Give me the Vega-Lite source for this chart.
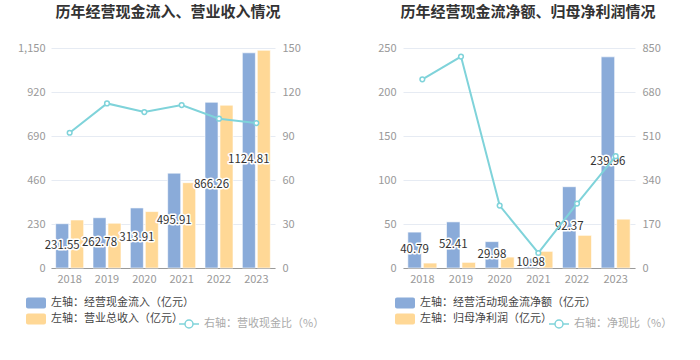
{
  "$schema": "https://vega.github.io/schema/vega-lite/v6.json",
  "background": "white",
  "padding": {"left": 17, "top": 5, "right": 5, "bottom": 5},
  "spacing": 52,
  "resolve": {"scale": {"color": "independent", "stroke": "independent", "xOffset": "independent", "x": "independent"}, "legend": {"color": "independent", "stroke": "independent"}},
  "config": {
    "view": {"stroke": null},
    "font": "Noto Sans CJK SC",
    "axis": {"labelFont": "Noto Sans CJK SC", "labelFontSize": 11, "labelColor": "#999999", "ticks": false, "title": null},
    "title": {"font": "Noto Sans CJK SC", "fontSize": 15, "fontWeight": "bold", "color": "#333333", "anchor": "middle", "offset": 22},
    "legend": {"labelFont": "Noto Sans CJK SC", "labelFontSize": 11, "labelColor": "#444444", "title": null}
  },
  "datasets": {
    "lb": [
      {"year": "2018", "series": "左轴：经营现金流入（亿元）", "value": 231.55},
      {"year": "2018", "series": "左轴：营业总收入（亿元）", "value": 251},
      {"year": "2019", "series": "左轴：经营现金流入（亿元）", "value": 262.78},
      {"year": "2019", "series": "左轴：营业总收入（亿元）", "value": 234},
      {"year": "2020", "series": "左轴：经营现金流入（亿元）", "value": 313.91},
      {"year": "2020", "series": "左轴：营业总收入（亿元）", "value": 295},
      {"year": "2021", "series": "左轴：经营现金流入（亿元）", "value": 495.91},
      {"year": "2021", "series": "左轴：营业总收入（亿元）", "value": 446},
      {"year": "2022", "series": "左轴：经营现金流入（亿元）", "value": 866.26},
      {"year": "2022", "series": "左轴：营业总收入（亿元）", "value": 851},
      {"year": "2023", "series": "左轴：经营现金流入（亿元）", "value": 1124.81},
      {"year": "2023", "series": "左轴：营业总收入（亿元）", "value": 1138}
    ],
    "ll": [
      {"year": "2018", "ratio": 92.2},
      {"year": "2019", "ratio": 112.2},
      {"year": "2020", "ratio": 106.3},
      {"year": "2021", "ratio": 111.1},
      {"year": "2022", "ratio": 101.8},
      {"year": "2023", "ratio": 98.8}
    ],
    "rb": [
      {"year": "2018", "series": "左轴：经营活动现金流净额（亿元）", "value": 40.79},
      {"year": "2018", "series": "左轴：归母净利润（亿元）", "value": 5.6},
      {"year": "2019", "series": "左轴：经营活动现金流净额（亿元）", "value": 52.41},
      {"year": "2019", "series": "左轴：归母净利润（亿元）", "value": 6.4},
      {"year": "2020", "series": "左轴：经营活动现金流净额（亿元）", "value": 29.98},
      {"year": "2020", "series": "左轴：归母净利润（亿元）", "value": 12.4},
      {"year": "2021", "series": "左轴：经营活动现金流净额（亿元）", "value": 10.98},
      {"year": "2021", "series": "左轴：归母净利润（亿元）", "value": 18.9},
      {"year": "2022", "series": "左轴：经营活动现金流净额（亿元）", "value": 92.37},
      {"year": "2022", "series": "左轴：归母净利润（亿元）", "value": 37.1},
      {"year": "2023", "series": "左轴：经营活动现金流净额（亿元）", "value": 239.96},
      {"year": "2023", "series": "左轴：归母净利润（亿元）", "value": 55.5}
    ],
    "rl": [
      {"year": "2018", "ratio": 729},
      {"year": "2019", "ratio": 817},
      {"year": "2020", "ratio": 241},
      {"year": "2021", "ratio": 58},
      {"year": "2022", "ratio": 249},
      {"year": "2023", "ratio": 432}
    ]
  },
  "hconcat": [
    {
      "title": {"text": "历年经营现金流入、营业收入情况", "dx": 5},
      "width": 224,
      "height": 220,
      "encoding": {
        "x": {"field": "year", "type": "ordinal", "scale": {"paddingInner": 0.25, "paddingOuter": 0.125}, "axis": {"labelAngle": 0, "domainColor": "#9a9a9a", "labelPadding": 5, "grid": false}}
      },
      "layer": [
        {
          "data": {"name": "lb"},
          "mark": {"type": "bar", "stroke": "white", "strokeOpacity": 0.6, "strokeWidth": 1},
          "encoding": {
            "xOffset": {"field": "series", "type": "nominal", "sort": null, "scale": {"paddingInner": 0.13}},
            "y": {"field": "value", "type": "quantitative", "scale": {"domain": [0, 1150], "nice": false}, "axis": {"orient": "left", "values": [0, 230, 460, 690, 920, 1150], "format": ",.0f", "grid": true, "gridColor": "#e6ebf3", "domain": false, "labelPadding": 6}},
            "color": {"field": "series", "type": "nominal", "sort": null, "scale": {"domain": ["左轴：经营现金流入（亿元）", "左轴：营业总收入（亿元）"], "range": ["#8aabd9", "#ffd896"]},
              "legend": {"orient": "none", "legendX": -25, "legendY": 245, "direction": "vertical", "symbolType": "M-0.8,-0.55L0.8,-0.55A0.2,0.2 0 0 1 1,-0.35L1,0.35A0.2,0.2 0 0 1 0.8,0.55L-0.8,0.55A0.2,0.2 0 0 1 -1,0.35L-1,-0.35A0.2,0.2 0 0 1 -0.8,-0.55Z", "symbolSize": 400, "symbolStrokeWidth": 0, "labelOffset": 5, "rowPadding": 0, "labelLimit": 300,
                "encode": {"symbols": {"update": {"opacity": {"signal": "datum.index === 0 ? 1 : 0.5"}}}, "labels": {"update": {"fill": {"signal": "datum.index === 0 ? '#444444' : '#aaaaaa'"}}}}}}
          }
        },
        {
          "data": {"name": "lb"},
          "transform": [{"filter": "datum.series === '左轴：经营现金流入（亿元）'"}],
          "encoding": {
            "xOffset": {"field": "series", "type": "nominal", "sort": null},
            "y": {"field": "value", "type": "quantitative", "scale": {"domain": [0, 2300], "nice": false}, "axis": null},
            "text": {"field": "value", "type": "quantitative", "format": ".2f"}
          },
          "layer": [
            {"mark": {"type": "text", "font": "Noto Sans CJK SC", "fontSize": 11.5, "fill": "white", "stroke": "white", "strokeWidth": 3, "strokeJoin": "round"}},
            {"mark": {"type": "text", "font": "Noto Sans CJK SC", "fontSize": 11.5, "fill": "#333333"}}
          ]
        },
        {
          "data": {"name": "ll"},
          "encoding": {
            "y": {"field": "ratio", "type": "quantitative", "scale": {"domain": [0, 150], "nice": false}, "axis": {"orient": "right", "values": [0, 30, 60, 90, 120, 150], "grid": false, "domain": false, "labelPadding": 7}}
          },
          "layer": [
            {"mark": {"type": "line", "strokeWidth": 2},
              "encoding": {"stroke": {"datum": "右轴：营收现金比（%）", "type": "nominal", "scale": {"range": ["#7fd3da"]},
                "legend": {"orient": "none", "legendX": 127, "legendY": 265, "symbolType": "M-1,0L-0.4,0M0.4,0L1,0M-0.4,0A0.4,0.4 0 1 1 0.4,0A0.4,0.4 0 1 1 -0.4,0Z", "symbolSize": 400, "symbolStrokeColor": "#b8e8ec", "symbolFillColor": "white", "symbolStrokeWidth": 1.5, "labelOffset": 4, "labelColor": "#aaaaaa"}}}},
            {"mark": {"type": "point", "filled": true, "fill": "white", "stroke": "#7fd3da", "strokeWidth": 1.5, "size": 22, "opacity": 1}}
          ]
        }
      ],
      "resolve": {"scale": {"y": "independent"}}
    },
    {
      "title": {"text": "历年经营现金流净额、归母净利润情况", "dx": 9},
      "width": 232,
      "height": 220,
      "encoding": {
        "x": {"field": "year", "type": "ordinal", "scale": {"paddingInner": 0.25, "paddingOuter": 0.125}, "axis": {"labelAngle": 0, "domainColor": "#9a9a9a", "labelPadding": 5, "grid": false}}
      },
      "layer": [
        {
          "data": {"name": "rb"},
          "mark": {"type": "bar", "stroke": "white", "strokeOpacity": 0.6, "strokeWidth": 1},
          "encoding": {
            "xOffset": {"field": "series", "type": "nominal", "sort": null, "scale": {"paddingInner": 0.13}},
            "y": {"field": "value", "type": "quantitative", "scale": {"domain": [0, 250], "nice": false}, "axis": {"orient": "left", "values": [0, 50, 100, 150, 200, 250], "grid": true, "gridColor": "#e6ebf3", "domain": false, "labelPadding": 7}},
            "color": {"field": "series", "type": "nominal", "sort": null, "scale": {"domain": ["左轴：经营活动现金流净额（亿元）", "左轴：归母净利润（亿元）"], "range": ["#8aabd9", "#ffd896"]},
              "legend": {"orient": "none", "legendX": -8, "legendY": 245, "direction": "vertical", "symbolType": "M-0.8,-0.55L0.8,-0.55A0.2,0.2 0 0 1 1,-0.35L1,0.35A0.2,0.2 0 0 1 0.8,0.55L-0.8,0.55A0.2,0.2 0 0 1 -1,0.35L-1,-0.35A0.2,0.2 0 0 1 -0.8,-0.55Z", "symbolSize": 400, "symbolStrokeWidth": 0, "labelOffset": 5, "rowPadding": 0, "labelLimit": 300,
                "encode": {"symbols": {"update": {"opacity": {"signal": "datum.index === 0 ? 1 : 0.5"}}}, "labels": {"update": {"fill": {"signal": "datum.index === 0 ? '#444444' : '#aaaaaa'"}}}}}}
          }
        },
        {
          "data": {"name": "rb"},
          "transform": [{"filter": "datum.series === '左轴：经营活动现金流净额（亿元）'"}],
          "encoding": {
            "xOffset": {"field": "series", "type": "nominal", "sort": null},
            "y": {"field": "value", "type": "quantitative", "scale": {"domain": [0, 500], "nice": false}, "axis": null},
            "text": {"field": "value", "type": "quantitative", "format": ".2f"}
          },
          "layer": [
            {"mark": {"type": "text", "font": "Noto Sans CJK SC", "fontSize": 11.5, "fill": "white", "stroke": "white", "strokeWidth": 3, "strokeJoin": "round"}},
            {"mark": {"type": "text", "font": "Noto Sans CJK SC", "fontSize": 11.5, "fill": "#333333"}}
          ]
        },
        {
          "data": {"name": "rl"},
          "encoding": {
            "y": {"field": "ratio", "type": "quantitative", "scale": {"domain": [0, 850], "nice": false}, "axis": {"orient": "right", "values": [0, 170, 340, 510, 680, 850], "grid": false, "domain": false, "labelPadding": 7}}
          },
          "layer": [
            {"mark": {"type": "line", "strokeWidth": 2},
              "encoding": {"stroke": {"datum": "右轴：净现比（%）", "type": "nominal", "scale": {"range": ["#7fd3da"]},
                "legend": {"orient": "none", "legendX": 145, "legendY": 265, "symbolType": "M-1,0L-0.4,0M0.4,0L1,0M-0.4,0A0.4,0.4 0 1 1 0.4,0A0.4,0.4 0 1 1 -0.4,0Z", "symbolSize": 400, "symbolStrokeColor": "#b8e8ec", "symbolFillColor": "white", "symbolStrokeWidth": 1.5, "labelOffset": 4, "labelColor": "#aaaaaa"}}}},
            {"mark": {"type": "point", "filled": true, "fill": "white", "stroke": "#7fd3da", "strokeWidth": 1.5, "size": 22, "opacity": 1}}
          ]
        }
      ],
      "resolve": {"scale": {"y": "independent"}}
    }
  ]
}
